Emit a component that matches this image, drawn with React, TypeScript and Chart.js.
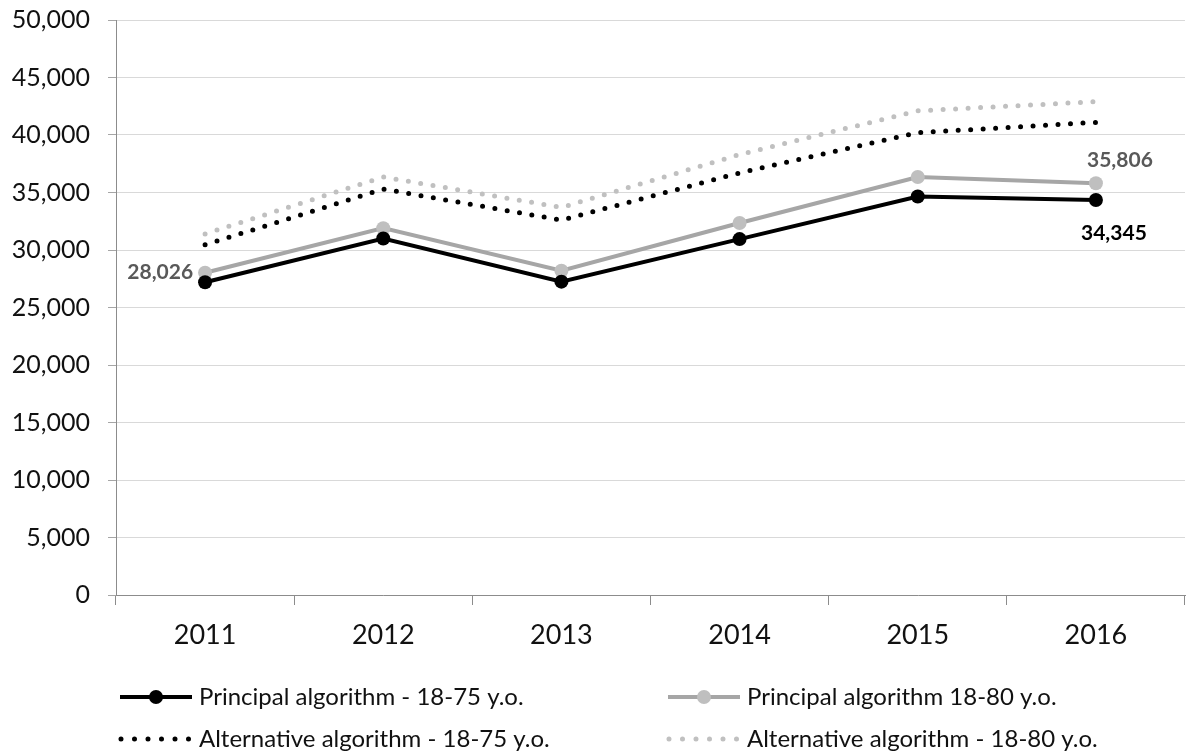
import React, { useEffect, useRef } from 'react';
import { Chart, registerables } from 'chart.js';

Chart.register(...registerables);

const years = ['2011', '2012', '2013', '2014', '2015', '2016'];
const principal75 = [27200, 31000, 27250, 30950, 34650, 34345];
const principal80 = [28026, 31900, 28200, 32350, 36350, 35806];
const alternative75 = [30450, 35300, 32600, 36700, 40200, 41100];
const alternative80 = [31400, 36350, 33700, 38300, 42100, 42900];
const seriesNames = [
  'Principal algorithm - 18-75 y.o.',
  'Principal algorithm 18-80 y.o.',
  'Alternative algorithm - 18-75 y.o.',
  'Alternative algorithm - 18-80 y.o.',
];
const yMin = 0;
const yMax = 50000;
const yStep = 5000;

const FONT = 'Lato, "Open Sans", sans-serif';

const fmt = (v: number) => Number(v).toLocaleString('en-US');

const valueLabels = {
  id: 'valueLabels',
  afterDatasetsDraw(chart: any) {
    const ctx = chart.ctx;
    const specs = [
      { ds: 1, i: 0, dx: -12, dy: 0, align: 'right', color: '#595959' },
      { ds: 1, i: 5, dx: 24, dy: -23, align: 'center', color: '#595959' },
      { ds: 0, i: 5, dx: 18, dy: 33, align: 'center', color: '#000000' },
    ];
    ctx.save();
    ctx.font = `bold 21px ${FONT}`;
    ctx.textBaseline = 'middle';
    specs.forEach((s) => {
      const pt = chart.getDatasetMeta(s.ds).data[s.i];
      const val = chart.data.datasets[s.ds].data[s.i];
      ctx.fillStyle = s.color;
      ctx.textAlign = s.align;
      ctx.fillText(fmt(val), pt.x + s.dx, pt.y + s.dy);
    });
    ctx.restore();
  },
};

const customLegend = {
  id: 'customLegend',
  afterDraw(chart: any) {
    const ctx = chart.ctx;
    const colX = [120, 668];
    const rowY = [697, 739];
    ctx.save();
    chart.data.datasets.forEach((ds: any, idx: number) => {
      const x = colX[idx % 2];
      const y = rowY[Math.floor(idx / 2)];
      ctx.strokeStyle = ds.borderColor;
      if (ds.borderDash && ds.borderDash.length) {
        ctx.lineWidth = ds.borderWidth;
        ctx.lineCap = 'round';
        ctx.setLineDash([0, 13.5]);
        ctx.beginPath();
        ctx.moveTo(x + 1, y);
        ctx.lineTo(x + 70, y);
        ctx.stroke();
        ctx.setLineDash([]);
      } else {
        ctx.lineWidth = ds.borderWidth;
        ctx.lineCap = 'butt';
        ctx.beginPath();
        ctx.moveTo(x, y);
        ctx.lineTo(x + 72, y);
        ctx.stroke();
        ctx.fillStyle = ds.pointBackgroundColor;
        ctx.beginPath();
        ctx.arc(x + 36, y, 7, 0, Math.PI * 2);
        ctx.fill();
      }
      ctx.fillStyle = '#111111';
      ctx.font = `24px ${FONT}`;
      ctx.textAlign = 'left';
      ctx.textBaseline = 'middle';
      ctx.fillText(ds.label, x + 79, y);
    });
    ctx.restore();
  },
};

export default function App() {
  const ref = useRef<HTMLCanvasElement | null>(null);

  useEffect(() => {
    if (!ref.current) return;
    const chart = new Chart(ref.current, {
      type: 'line',
      data: {
        labels: years,
        datasets: [
          {
            label: seriesNames[0],
            data: principal75,
            borderColor: '#000000',
            backgroundColor: '#000000',
            pointBackgroundColor: '#000000',
            pointBorderColor: '#000000',
            borderWidth: 4,
            pointRadius: 7,
            pointBorderWidth: 0,
            tension: 0,
          },
          {
            label: seriesNames[1],
            data: principal80,
            borderColor: '#a6a6a6',
            backgroundColor: '#bfbfbf',
            pointBackgroundColor: '#bfbfbf',
            pointBorderColor: '#bfbfbf',
            borderWidth: 4,
            pointRadius: 7,
            pointBorderWidth: 0,
            tension: 0,
          },
          {
            label: seriesNames[2],
            data: alternative75,
            borderColor: '#000000',
            backgroundColor: '#000000',
            borderWidth: 5,
            borderDash: [0, 12.5],
            borderCapStyle: 'round',
            pointRadius: 0,
            tension: 0,
          },
          {
            label: seriesNames[3],
            data: alternative80,
            borderColor: '#c0c0c0',
            backgroundColor: '#c0c0c0',
            borderWidth: 5,
            borderDash: [0, 12.5],
            borderCapStyle: 'round',
            pointRadius: 0,
            tension: 0,
          },
        ],
      },
      options: {
        responsive: false,
        animation: false,
        devicePixelRatio: 1,
        layout: { padding: { top: 20, right: 6, left: 0, bottom: 0 } },
        plugins: {
          legend: { display: false },
          tooltip: { enabled: false },
        },
        scales: {
          x: {
            offset: true,
            grid: {
              offset: true,
              drawOnChartArea: false,
              drawTicks: true,
              tickLength: 10,
              tickColor: '#8c8c8c',
            },
            border: { color: '#8c8c8c', width: 1 },
            ticks: {
              color: '#111111',
              font: { family: FONT, size: 27 },
              padding: 14,
            },
            afterFit: (scale: any) => {
              scale.height = 158;
              scale.paddingLeft = 0;
              scale.paddingRight = 0;
            },
          },
          y: {
            min: yMin,
            max: yMax,
            grid: {
              color: '#d9d9d9',
              tickLength: 8,
              tickColor: '#a6a6a6',
            },
            border: { color: '#8c8c8c', width: 1 },
            ticks: {
              stepSize: yStep,
              color: '#111111',
              font: { family: FONT, size: 25 },
              padding: 18,
              callback: (v: any) => fmt(v),
            },
            afterFit: (scale: any) => {
              scale.width = 116;
              scale.paddingTop = 0;
              scale.paddingBottom = 0;
            },
          },
        },
      },
      plugins: [valueLabels, customLegend],
    } as any);
    return () => chart.destroy();
  }, []);

  return (
    <div style={{ position: 'absolute', left: 0, top: 0, width: 1192, height: 753, background: '#ffffff' }}>
      <canvas ref={ref} width={1192} height={753} style={{ display: 'block', width: 1192, height: 753 }} />
    </div>
  );
}
